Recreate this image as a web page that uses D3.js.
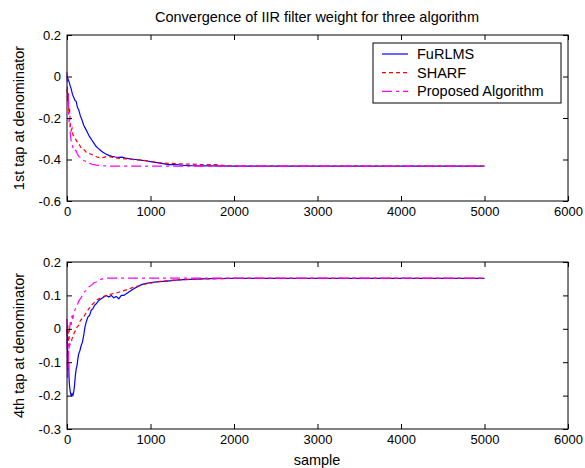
<!DOCTYPE html>
<html>
<head>
<meta charset="utf-8">
<script src="https://cdn.jsdelivr.net/npm/d3@7"></script>
<style>
  body { margin: 0; background: #fff; }
  svg { display: block; font-family: "Liberation Sans", Arial, sans-serif; }
</style>
</head>
<body>
<svg width="585" height="468"></svg>
<script>
// data: [sample, weight]
var names = ["FuRLMS", "SHARF", "Proposed Algorithm"];
var xTicks = [0, 1000, 2000, 3000, 4000, 5000, 6000];
var topTicks = [-0.6, -0.4, -0.2, 0, 0.2];
var bottomTicks = [-0.3, -0.2, -0.1, 0, 0.1, 0.2];

var furlmsTop = [[0, 0.0], [10, -0.01], [20, -0.02], [35, -0.04], [50, -0.06], [65, -0.085], [80, -0.1], [95, -0.115],
  [110, -0.12], [125, -0.15], [140, -0.16], [160, -0.19], [180, -0.21], [200, -0.235], [220, -0.25], [245, -0.27],
  [270, -0.29], [295, -0.305], [320, -0.32], [345, -0.335], [370, -0.345], [400, -0.355], [430, -0.365], [460, -0.372],
  [500, -0.38], [540, -0.385], [580, -0.388], [620, -0.39], [660, -0.389], [700, -0.393], [760, -0.397], [820, -0.4],
  [880, -0.403], [940, -0.406], [1000, -0.41], [1080, -0.415], [1150, -0.42], [1220, -0.425], [1300, -0.424],
  [1400, -0.428], [1500, -0.43], [1700, -0.431], [2000, -0.432], [5000, -0.432]];
var sharfTop = [[0, -0.06], [8, -0.12], [15, -0.08], [22, -0.18], [30, -0.15], [40, -0.24], [50, -0.26], [60, -0.25],
  [70, -0.28], [85, -0.29], [100, -0.3], [115, -0.31], [130, -0.32], [150, -0.33], [170, -0.345], [190, -0.35],
  [210, -0.355], [230, -0.365], [260, -0.37], [290, -0.375], [320, -0.38], [360, -0.388], [400, -0.392], [440, -0.39],
  [480, -0.385], [520, -0.388], [580, -0.392], [640, -0.395], [700, -0.397], [780, -0.4], [860, -0.402], [940, -0.405],
  [1020, -0.41], [1100, -0.415], [1200, -0.418], [1300, -0.42], [1450, -0.422], [1600, -0.424], [1800, -0.425],
  [1900, -0.43], [2100, -0.432], [5000, -0.432]];
var proposedTop = [[0, 0.02], [5, -0.05], [10, -0.12], [15, -0.08], [20, -0.18], [25, -0.22], [32, -0.2], [40, -0.28],
  [50, -0.31], [60, -0.32], [75, -0.35], [90, -0.36], [105, -0.355], [120, -0.37], [140, -0.385], [160, -0.39],
  [180, -0.4], [200, -0.405], [230, -0.41], [260, -0.418], [300, -0.423], [350, -0.427], [420, -0.43], [550, -0.432],
  [5000, -0.432]];

var furlmsBottom = [[0, 0.0], [5, -0.05], [10, -0.08], [15, -0.12], [20, -0.1], [25, -0.15], [30, -0.17], [40, -0.19],
  [50, -0.2], [60, -0.195], [70, -0.2], [80, -0.19], [90, -0.17], [100, -0.14], [110, -0.12], [120, -0.11],
  [130, -0.09], [140, -0.075], [155, -0.065], [170, -0.05], [185, -0.04], [200, -0.02], [215, 0.005], [230, 0.02],
  [250, 0.035], [270, 0.04], [290, 0.055], [310, 0.06], [330, 0.07], [350, 0.075], [380, 0.085], [410, 0.09],
  [440, 0.095], [470, 0.1], [500, 0.095], [530, 0.1], [560, 0.093], [590, 0.097], [620, 0.09], [650, 0.1],
  [680, 0.1], [710, 0.105], [750, 0.112], [800, 0.12], [850, 0.127], [900, 0.133], [950, 0.136], [1000, 0.138],
  [1100, 0.141], [1200, 0.143], [1300, 0.146], [1400, 0.147], [1550, 0.149], [1700, 0.15], [2000, 0.151], [5000, 0.151]];
var sharfBottom = [[0, 0.0], [5, -0.02], [10, 0.01], [15, -0.01], [20, -0.04], [30, -0.05], [40, -0.045], [50, -0.04],
  [60, -0.03], [75, -0.02], [90, -0.01], [105, -0.005], [120, 0.005], [140, 0.01], [160, 0.025], [180, 0.03],
  [200, 0.035], [220, 0.045], [240, 0.05], [260, 0.06], [280, 0.065], [300, 0.072], [330, 0.08], [360, 0.087],
  [400, 0.092], [440, 0.097], [480, 0.1], [520, 0.103], [560, 0.106], [600, 0.108], [650, 0.112], [700, 0.116],
  [750, 0.12], [800, 0.125], [850, 0.128], [900, 0.132], [1000, 0.137], [1100, 0.141], [1200, 0.144], [1300, 0.146],
  [1450, 0.148], [1600, 0.149], [1800, 0.15], [2000, 0.151], [5000, 0.151]];
var proposedBottom = [[0, 0.03], [4, -0.1], [8, -0.15], [12, -0.08], [16, -0.12], [20, -0.04], [25, -0.06], [30, 0.0],
  [40, 0.02], [50, 0.01], [60, 0.04], [70, 0.03], [80, 0.045], [100, 0.06], [125, 0.072], [145, 0.085], [165, 0.092],
  [185, 0.1], [205, 0.11], [230, 0.115], [260, 0.125], [290, 0.13], [320, 0.137], [350, 0.14], [385, 0.146],
  [430, 0.15], [480, 0.152], [5000, 0.152]];

var colors = ["#0000ff", "#ff0000", "#ff00ff"];
var dashes = [null, "4,3", "10,4,3,4"];

var svg = d3.select("svg");
var left = 67, right = 568;

function fmt(d) {
  if (d === 0) return "0";
  var s = Math.abs(d).toFixed(1);
  return (d < 0 ? "-" : "") + s;
}

function panel(top, bottom, yDomain, yTicks, series, ylabel) {
  var x = d3.scaleLinear().domain([0, 6000]).range([left, right]);
  var y = d3.scaleLinear().domain(yDomain).range([bottom, top]);
  var g = svg.append("g");

  var line = d3.line().x(function (d) { return x(d[0]); }).y(function (d) { return y(d[1]); });
  series.forEach(function (s, i) {
    g.append("path")
      .attr("d", line(s))
      .attr("fill", "none")
      .attr("stroke", colors[i])
      .attr("stroke-width", 1.2)
      .attr("stroke-dasharray", dashes[i]);
  });

  var ax = [
    [d3.axisBottom(x).tickValues(xTicks).tickFormat(d3.format("d")), 0, bottom],
    [d3.axisTop(x).tickValues(xTicks).tickFormat(""), 0, top],
    [d3.axisLeft(y).tickValues(yTicks).tickFormat(fmt), left, 0],
    [d3.axisRight(y).tickValues(yTicks).tickFormat(""), right, 0]
  ];
  ax.forEach(function (a) {
    var ag = g.append("g")
      .attr("transform", "translate(" + a[1] + "," + a[2] + ")")
      .call(a[0].tickSizeInner(-5).tickSizeOuter(0).tickPadding(6));
    ag.select(".domain").remove();
    ag.selectAll("text").attr("font-size", 13).attr("fill", "#000")
      .attr("font-family", "'Liberation Sans', Arial, sans-serif");
    ag.selectAll("line").attr("stroke", "#000");
  });

  g.append("rect")
    .attr("x", left).attr("y", top)
    .attr("width", right - left).attr("height", bottom - top)
    .attr("fill", "none").attr("stroke", "#000");

  g.append("text")
    .attr("transform", "translate(24," + ((top + bottom) / 2) + ") rotate(-90)")
    .attr("text-anchor", "middle")
    .attr("font-size", 14.5)
    .text(ylabel);
}

panel(35, 201, [-0.6, 0.2], topTicks, [furlmsTop, sharfTop, proposedTop], "1st tap at denominator");
panel(262, 429, [-0.3, 0.2], bottomTicks, [furlmsBottom, sharfBottom, proposedBottom], "4th tap at denominator");

// title
svg.append("text")
  .attr("x", 317).attr("y", 22)
  .attr("text-anchor", "middle")
  .attr("font-size", 14.5)
  .text("Convergence of IIR filter weight for three algorithm");

// x axis label
svg.append("text")
  .attr("x", 317).attr("y", 465)
  .attr("text-anchor", "middle")
  .attr("font-size", 14.5)
  .text("sample");

// legend
var lg = svg.append("g");
lg.append("rect")
  .attr("x", 373).attr("y", 43)
  .attr("width", 188).attr("height", 60)
  .attr("fill", "#fff").attr("stroke", "#000");
names.forEach(function (n, i) {
  var yy = 54 + i * 18.7;
  lg.append("line")
    .attr("x1", 382).attr("x2", 408)
    .attr("y1", yy).attr("y2", yy)
    .attr("stroke", colors[i])
    .attr("stroke-width", 1.2)
    .attr("stroke-dasharray", dashes[i]);
  lg.append("text")
    .attr("x", 417).attr("y", yy + 5)
    .attr("font-size", 14.5)
    .text(n);
});
</script>
</body>
</html>
